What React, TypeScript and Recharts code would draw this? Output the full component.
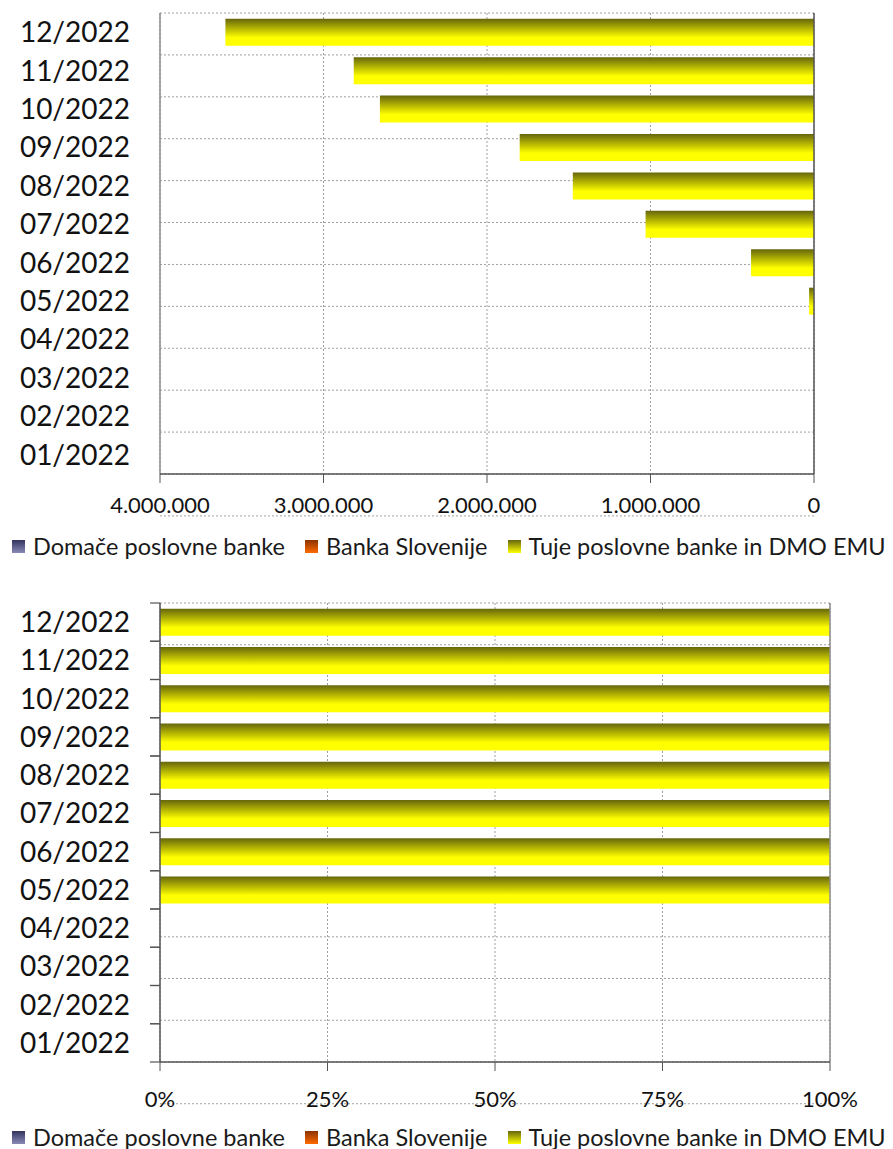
import React from 'react';
import {
  BarChart, Bar, XAxis, YAxis, CartesianGrid, Legend, ReferenceLine,
} from 'recharts';

// months, oldest first (drawn bottom -> top)
const months = [
  '01/2022', '02/2022', '03/2022', '04/2022', '05/2022', '06/2022',
  '07/2022', '08/2022', '09/2022', '10/2022', '11/2022', '12/2022',
];
const domace = [0, 0, 0, 0, 0, 0, 0, 0, 0, 0, 0, 0];
const bankaSlovenije = [0, 0, 0, 0, 0, 0, 0, 0, 0, 0, 0, 0];
const tuje = [0, 0, 0, 0, 30000, 385000, 1030000, 1475000, 1800000, 2655000, 2815000, 3600000];

const valueTicks = [0, 1000000, 2000000, 3000000, 4000000];
const pctTicks = [0, 25, 50, 75, 100];
const boundaryTicks = [0, 1, 2, 3, 4, 5, 6, 7, 8, 9, 10, 11, 12];

const series = [
  { key: 'domace', name: 'Domače poslovne banke', dark: '#33335e', light: '#8a8ab8' },
  { key: 'bs', name: 'Banka Slovenije', dark: '#8a3300', light: '#ff6a00' },
  { key: 'tuje', name: 'Tuje poslovne banke in DMO EMU', dark: '#66660d', light: '#ffff00' },
];

const absData = months.map((m, i) => ({
  month: m, domace: domace[i], bs: bankaSlovenije[i], tuje: tuje[i],
}));

const pctData = months.map((m, i) => {
  const total = domace[i] + bankaSlovenije[i] + tuje[i];
  const share = (v: number) => (total > 0 ? (v / total) * 100 : 0);
  return { month: m, domace: share(domace[i]), bs: share(bankaSlovenije[i]), tuje: share(tuje[i]) };
});

const font = 'Lato, "DejaVu Sans", sans-serif';
const gridColor = '#a0a0a0';
const borderColor = '#8c8c8c';
const axisColor = '#555';
const labelGap = 30;

const fmtThousands = (v: number) => String(v).replace(/\B(?=(\d{3})+(?!\d))/g, '.');

function Gradients({ prefix }: { prefix: string }) {
  return (
    <defs>
      {series.map((s) => (
        <linearGradient key={s.key} id={`${prefix}-${s.key}`} x1="0" y1="0" x2="0" y2="1">
          <stop offset="0%" stopColor={s.dark} />
          <stop offset="45%" stopColor={s.key === 'tuje' ? '#c8c800' : s.light} />
          <stop offset="70%" stopColor={s.light} />
          <stop offset="100%" stopColor={s.light} />
        </linearGradient>
      ))}
    </defs>
  );
}

function LegendRow({ prefix }: { prefix: string }) {
  return (
    <div style={{
      display: 'flex', alignItems: 'center', height: 30, paddingLeft: 12,
      fontFamily: font, fontSize: 23.5, color: '#1a1a1a', whiteSpace: 'nowrap',
    }}>
      {series.map((s) => (
        <span key={s.key} style={{ display: 'flex', alignItems: 'center', marginRight: 20 }}>
          <svg width={13} height={13} style={{ marginRight: 8 }}>
            <defs>
              <linearGradient id={`${prefix}-leg-${s.key}`} x1="0" y1="0" x2="0" y2="1">
                <stop offset="0%" stopColor={s.dark} />
                <stop offset="100%" stopColor={s.light} />
              </linearGradient>
            </defs>
            <rect width={13} height={13} fill={`url(#${prefix}-leg-${s.key})`} />
          </svg>
          {s.name}
        </span>
      ))}
    </div>
  );
}

const yLabelTick = { fontSize: 28, fill: '#111', fontFamily: font };
const xLabelTick = { fontSize: 22, fill: '#111', fontFamily: font };

// month label plus short tick marks on the band edges (Excel style)
function MonthTick(props: any) {
  const { x, y, payload, height } = props;
  const band = Number(height) / months.length;
  const ax = x + labelGap;
  return (
    <g>
      <line x1={ax - 10} x2={ax} y1={y - band / 2} y2={y - band / 2} stroke={axisColor} strokeWidth={1.2} />
      <line x1={ax - 10} x2={ax} y1={y + band / 2} y2={y + band / 2} stroke={axisColor} strokeWidth={1.2} />
      <text x={x} y={y} dy="0.355em" textAnchor="end" {...yLabelTick}>{payload.value}</text>
    </g>
  );
}

function ValueChart() {
  return (
    <BarChart
      width={893} height={561} data={absData} layout="vertical"
      margin={{ top: 13, right: 79, left: 0, bottom: 0 }}
      barCategoryGap="15%"
    >
      <Gradients prefix="abs" />
      <CartesianGrid yAxisId="edges" stroke={gridColor} strokeDasharray="2 2" />
      <XAxis
        type="number" domain={[0, 4000000]} ticks={valueTicks} reversed
        tickFormatter={fmtThousands} tick={xLabelTick}
        height={57} tickSize={9} tickMargin={14}
        axisLine={{ stroke: axisColor, strokeWidth: 1.5 }} tickLine={{ stroke: axisColor }}
        interval={0}
      />
      <YAxis
        type="category" dataKey="month" reversed width={160}
        tick={yLabelTick} tickSize={0} tickMargin={labelGap}
        axisLine={false} tickLine={false} interval={0}
      />
      <YAxis yAxisId="edges" type="number" domain={[0, 12]} ticks={boundaryTicks} hide />
      {series.map((s) => (
        <Bar key={s.key} dataKey={s.key} name={s.name} stackId="a"
          fill={`url(#abs-${s.key})`} isAnimationActive={false} />
      ))}
      <ReferenceLine yAxisId="edges" y={12} stroke={borderColor} strokeWidth={1.5} />
      <ReferenceLine x={4000000} stroke={borderColor} strokeWidth={1.5} />
      <ReferenceLine x={0} stroke={axisColor} strokeWidth={1.5} />
      <Legend verticalAlign="bottom" align="left" content={() => <LegendRow prefix="abs" />} />
    </BarChart>
  );
}

function ShareChart() {
  return (
    <BarChart
      width={893} height={577} data={pctData} layout="vertical"
      margin={{ top: 28, right: 63, left: 0, bottom: 0 }}
      barCategoryGap="15%"
    >
      <Gradients prefix="pct" />
      <CartesianGrid yAxisId="edges" stroke={gridColor} strokeDasharray="2 2" />
      <XAxis
        type="number" domain={[0, 100]} ticks={pctTicks}
        tickFormatter={(v: number) => `${v}%`} tick={xLabelTick}
        height={60} tickSize={9} tickMargin={20}
        axisLine={{ stroke: axisColor, strokeWidth: 1.5 }} tickLine={{ stroke: axisColor }}
        interval={0}
      />
      <YAxis
        type="category" dataKey="month" reversed width={160}
        tick={<MonthTick />} tickSize={0} tickMargin={labelGap}
        axisLine={{ stroke: axisColor, strokeWidth: 1.5 }} tickLine={false} interval={0}
      />
      <YAxis yAxisId="edges" type="number" domain={[0, 12]} ticks={boundaryTicks} hide />
      {series.map((s) => (
        <Bar key={s.key} dataKey={s.key} name={s.name} stackId="a"
          fill={`url(#pct-${s.key})`} isAnimationActive={false} />
      ))}
      <ReferenceLine yAxisId="edges" y={12} stroke={borderColor} strokeWidth={1.5} />
      <ReferenceLine x={100} stroke={borderColor} strokeWidth={1.5} />
      <Legend verticalAlign="bottom" align="left" content={() => <LegendRow prefix="pct" />} />
    </BarChart>
  );
}

export default function App() {
  return (
    <div style={{ position: 'absolute', left: 0, top: 0, width: 893, height: 1149, background: '#fff' }}>
      <ValueChart />
      <div style={{ position: 'absolute', left: 0, top: 575 }}>
        <ShareChart />
      </div>
    </div>
  );
}
